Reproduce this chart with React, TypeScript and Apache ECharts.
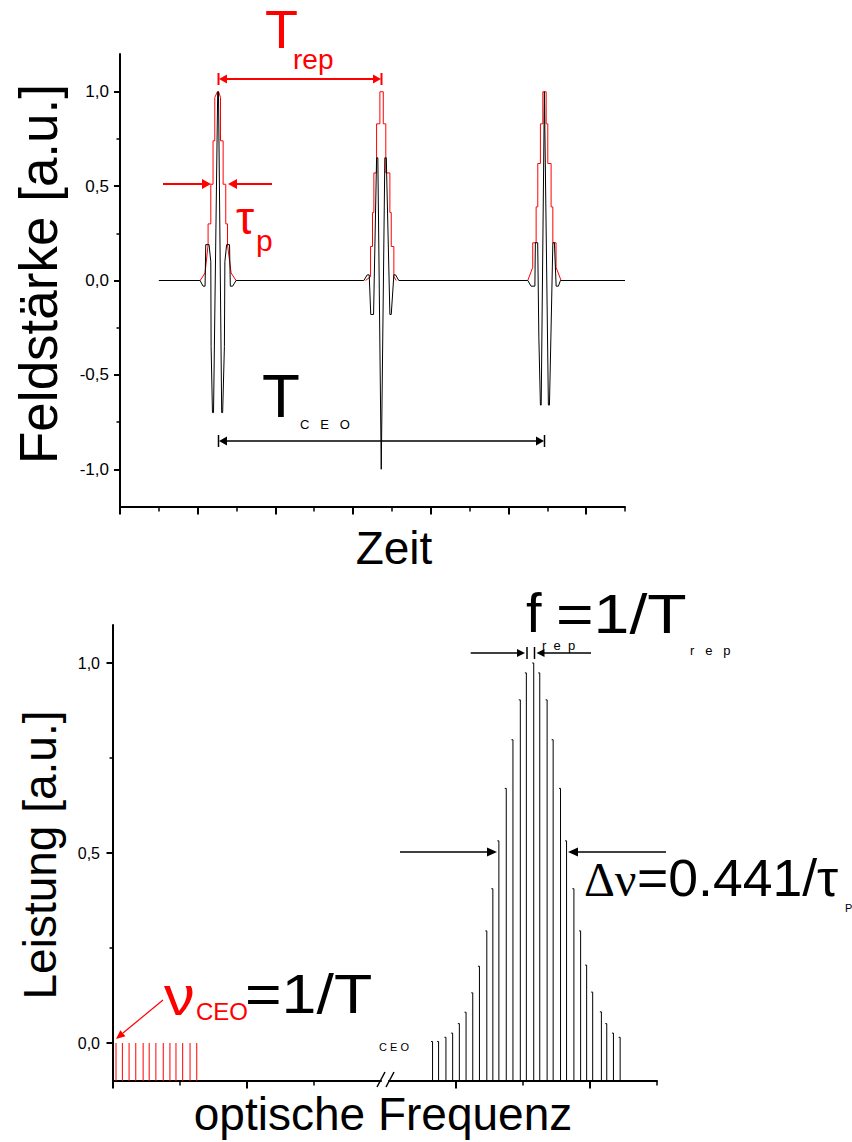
import React, { useEffect, useRef } from "react";
import * as echarts from "echarts";

const SANS = '"Liberation Sans", Arial, Helvetica, sans-serif';
const SERIF = '"Liberation Serif", "Times New Roman", serif';
const RED = "#ff0000";
const BLACK = "#000000";

// ---------- upper panel: Feldstärke vs. Zeit ----------
const zeitRange = [0, 520];
const feldRange = [-1.2, 1.2];
const zeitMajorTicks = [0, 80, 160, 240, 320, 400, 480];
const zeitMinorTicks = [40, 120, 200, 280, 360, 440, 520];
const feldMajorTicks = [-1, -0.5, 0, 0.5, 1];
const feldMinorTicks = [-0.75, -0.25, 0.25, 0.75];

const fieldLead = [[40, 0]];
const fieldPulse1 = [
  [82.5, 0], [85.5, -0.03], [87.6, -0.03], [88.3, 0.19], [91.7, 0.19], [93.5, 0.1],
  [93.8, -0.35], [95.2, -0.7], [96.3, -0.7], [100.6, 1.0], [101.4, 1.0], [104.7, -0.7],
  [105.7, -0.7], [107.5, -0.35], [108, 0.1], [109.8, 0.19], [112.8, 0.19], [113.6, -0.03],
  [116, -0.03], [119.5, 0],
];
const fieldPulse2 = [
  [251.1, 0], [254.6, 0.03], [256.6, 0.03], [258.2, -0.18], [261.1, -0.18], [264.2, 0.65],
  [265.5, 0.65], [269, -1.0], [272.7, 0.65], [274.2, 0.65], [277.9, -0.18], [279.3, -0.18],
  [282, 0.03], [283.7, 0.03], [287.1, 0],
];
const fieldPulse3 = [
  [419.9, 0], [423.3, -0.03], [427.2, -0.03], [427.7, 0.2], [430.1, 0.2], [431.3, -0.3],
  [432.9, -0.66], [433.7, -0.66], [437, 1.0], [441.1, -0.66], [442.2, -0.66], [443.7, -0.3],
  [445.7, 0.2], [447.3, 0.2], [449.1, -0.03], [451.4, -0.03], [453.5, 0],
];
const fieldTail = [[520, 0]];

const envelopePulse1 = [
  [82.5, 0], [87.6, 0.04], [90.7, 0.19], [90.7, 0.3], [93.5, 0.3], [93.5, 0.51], [95.8, 0.51],
  [95.8, 0.74], [97.6, 0.74], [97.6, 0.97], [100.3, 1.0], [101.6, 1.0], [103.5, 0.97],
  [103.5, 0.74], [106.2, 0.74], [106.2, 0.51], [108.9, 0.51], [108.9, 0.3], [110.7, 0.3],
  [110.7, 0.19], [114.4, 0.04], [119.5, 0],
];
const envelopePulse2 = [
  [252.8, 0], [258, 0.02], [258, 0.18], [260, 0.18], [260, 0.36], [261.4, 0.36], [261.4, 0.57],
  [264.2, 0.57], [264.2, 0.83], [267.6, 0.83], [267.6, 1.0], [271.1, 1.0], [271.1, 0.83],
  [273.7, 0.83], [273.7, 0.57], [277.9, 0.57], [277.9, 0.36], [279.3, 0.36], [279.3, 0.18],
  [282, 0.18], [282, 0.02], [284.5, 0],
];
const envelopePulse3 = [
  [419.9, 0], [425, 0.07], [425, 0.2], [428.5, 0.2], [428.5, 0.39], [430.2, 0.39], [430.2, 0.62],
  [432.9, 0.62], [432.9, 0.83], [435.4, 0.83], [435.4, 1.0], [438.8, 1.0], [438.8, 0.83],
  [440.5, 0.83], [440.5, 0.62], [443.9, 0.62], [443.9, 0.39], [445.7, 0.39], [445.7, 0.2],
  [449, 0.2], [449, 0.07], [454.2, 0],
];

// ---------- lower panel: Leistung vs. optische Frequenz ----------
const leistungRange = [-0.1, 1.1];
const leistungMajorTicks = [0, 0.5, 1];
const leistungMinorTicks = [0.25, 0.75];
const lowFreqRange = [0, 40];
const lowFreqMajorTicks = [0, 20];
const lowFreqMinorTicks = [10, 30];
const highFreqRange = [90, 130];
const highFreqMajorTicks = [100, 120];
const highFreqMinorTicks = [110, 130];

const ceoCombPositions = [0.45, 1.4, 2.4, 3.4, 4.5, 5.4, 6.4, 7.5, 8.5, 9.4, 10.4, 11.5, 12.5];
const ceoCombPower = [0, 0, 0, 0, 0, 0, 0, 0, 0, 0, 0, 0, 0];

const opticalCombPositions = [
  96.5, 97.4, 98.5, 99.5, 100.5, 101.5, 102.5, 103.5, 104.6, 105.5, 106.4, 107.5, 108.5,
  109.6, 110.5, 111.6, 112.5, 113.6, 114.5, 115.6, 116.5, 117.6, 118.6, 119.5, 120.4, 121.7,
  122.5, 123.5, 124.5,
];
const opticalCombPower = [
  0.004, 0.004, 0.015, 0.026, 0.051, 0.081, 0.132, 0.202, 0.295, 0.406, 0.532, 0.67, 0.798,
  0.903, 0.974, 1.0, 0.974, 0.903, 0.798, 0.67, 0.532, 0.406, 0.295, 0.205, 0.134, 0.082,
  0.051, 0.026, 0.015,
];

const commaLabel = (v: number) => v.toFixed(1).replace(".", ",");

function valueAxis(o: any) {
  return {
    type: "value",
    gridIndex: o.grid,
    min: o.range[0],
    max: o.range[1],
    position: o.position,
    show: o.show !== false,
    axisLine: {
      show: !!o.line,
      onZero: false,
      lineStyle: { color: BLACK, width: 2 },
    },
    axisTick: {
      show: true,
      inside: false,
      length: o.tickLen,
      customValues: o.ticks,
      lineStyle: { color: BLACK, width: o.tickWidth || 2 },
    },
    axisLabel: o.labels
      ? {
          show: true,
          customValues: o.labels,
          formatter: commaLabel,
          color: BLACK,
          fontFamily: SANS,
          fontSize: o.fontSize,
          margin: o.margin,
        }
      : { show: false },
    splitLine: { show: false },
    minorTick: { show: false },
    minorSplitLine: { show: false },
  };
}

function comb(color: string, nub: number) {
  return (params: any, api: any) => {
    const x = api.value(0);
    const v = api.value(1);
    const base = api.coord([x, leistungRange[0]]);
    const top = api.coord([x, v]);
    return {
      type: "polyline",
      shape: { points: [[top[0] - nub, top[1]], [top[0], top[1]], [base[0], base[1]]] },
      style: { stroke: color, lineWidth: 1, fill: "none" },
    };
  };
}

const font = (size: number, fam = SANS) => `${size}px ${fam}`;
const txt = (text: string, x: number, y: number, size: number, color: string, extra: any = {}) => ({
  type: "text",
  silent: true,
  x,
  y,
  rotation: extra.rotation || 0,
  scaleX: extra.scaleX || 1,
  style: {
    text,
    font: font(size, extra.family || SANS),
    fill: color,
    align: extra.align || "left",
    verticalAlign: "middle",
    lineHeight: Math.round(size * 0.8),
  },
});
const seg = (x1: number, y1: number, x2: number, y2: number, color: string, w: number) => ({
  type: "line",
  silent: true,
  shape: { x1, y1, x2, y2 },
  style: { stroke: color, lineWidth: w },
});
const head = (tx: number, ty: number, dx: number, dy: number, color: string, len = 9, half = 4.5) => {
  const n = Math.hypot(dx, dy);
  const ux = dx / n;
  const uy = dy / n;
  const bx = tx - ux * len;
  const by = ty - uy * len;
  return {
    type: "polygon",
    silent: true,
    shape: {
      points: [
        [tx, ty],
        [bx - uy * half, by + ux * half],
        [bx + uy * half, by - ux * half],
      ],
    },
    style: { fill: color },
  };
};

function buildOption() {
  const graphics: any[] = [
    // axis titles
    txt("Feldstärke [a.u.]", 38, 274, 53, BLACK, { rotation: Math.PI / 2, align: "center" }),
    txt("Zeit", 394, 548, 46, BLACK, { align: "center" }),
    txt("Leistung [a.u.]", 40, 855, 46, BLACK, { rotation: Math.PI / 2, align: "center" }),
    txt("optische Frequenz", 383, 1114, 46, BLACK, { align: "center" }),

    // T_rep
    txt("T", 265, 29, 54, RED),
    txt("rep", 293, 59, 28, RED),
    seg(226, 79, 374, 79, RED, 2),
    head(219, 79, -1, 0, RED, 8, 4.5),
    head(381, 79, 1, 0, RED, 8, 4.5),
    seg(218.5, 73, 218.5, 85, RED, 2),
    seg(381.5, 73, 381.5, 85, RED, 2),

    // tau_p
    seg(163, 184, 203, 184, RED, 2),
    head(211, 184, 1, 0, RED, 9, 5),
    seg(236, 184, 272, 184, RED, 2),
    head(228, 184, -1, 0, RED, 9, 5),
    txt("τ", 236, 218, 46, RED),
    txt("p", 256, 240, 30, RED),

    // T_CEO
    txt("T", 262, 395, 62, BLACK),
    txt("C   E   O", 300, 424, 13, BLACK),
    seg(226, 441, 537, 441, BLACK, 1.5),
    head(219, 441, -1, 0, BLACK, 8, 4.5),
    head(544, 441, 1, 0, BLACK, 8, 4.5),
    seg(218.5, 435, 218.5, 447, BLACK, 1.5),
    seg(544.5, 435, 544.5, 447, BLACK, 1.5),

    // f_rep
    txt("f", 526, 612, 56, BLACK),
    txt("r  e  p", 542, 645, 13, BLACK),
    txt("=1/T", 556, 614, 56, BLACK, { scaleX: 1.15 }),
    txt("r   e   p", 690, 650, 13, BLACK),
    seg(470.7, 653, 517, 653, BLACK, 1.5),
    head(525, 653, 1, 0, BLACK, 8, 4),
    seg(527, 647, 527, 659, BLACK, 1.5),
    seg(534.5, 647, 534.5, 659, BLACK, 1.5),
    head(536.5, 653, -1, 0, BLACK, 8, 4),
    seg(544, 653, 591, 653, BLACK, 1.5),

    // delta nu
    seg(400, 852, 488, 852, BLACK, 1.5),
    head(497, 852, 1, 0, BLACK, 10, 4.5),
    head(568, 852, -1, 0, BLACK, 10, 4.5),
    seg(577, 852, 666, 852, BLACK, 1.5),
    txt("Δν", 584, 879, 48, BLACK, { family: SERIF }),
    txt("=0.441/τ", 637, 878, 52, BLACK, { scaleX: 1.03 }),
    txt("P", 845, 908, 11, BLACK),

    // nu_CEO
    txt("ν", 164, 995, 56, RED, { scaleX: 1.1 }),
    txt("CEO", 196, 1011, 24, RED),
    txt("=1/T", 245, 994, 56, BLACK, { scaleX: 1.12 }),
    txt("C E O", 379, 1047, 11, BLACK),
    seg(163, 1000, 123, 1033, RED, 1.2),
    head(116, 1039, -47, 39, RED, 9, 4),

    // axis break
    seg(377, 1087, 385, 1072, BLACK, 1.5),
    seg(386, 1087, 394, 1072, BLACK, 1.5),
  ];

  return {
    animation: false,
    backgroundColor: "#ffffff",
    textStyle: { fontFamily: SANS },
    grid: [
      { left: 120, top: 54, width: 505, height: 453, outerBoundsMode: "none" },
      { left: 113, top: 625, width: 268, height: 456, outerBoundsMode: "none" },
      { left: 389, top: 625, width: 268, height: 456, outerBoundsMode: "none" },
    ],
    xAxis: [
      valueAxis({ grid: 0, range: zeitRange, position: "bottom", line: true, ticks: zeitMajorTicks, tickLen: 7.5 }),
      valueAxis({ grid: 0, range: zeitRange, position: "bottom", line: false, ticks: zeitMinorTicks, tickLen: 4.5, tickWidth: 1.5 }),
      valueAxis({ grid: 1, range: lowFreqRange, position: "bottom", line: true, ticks: lowFreqMajorTicks, tickLen: 7.5 }),
      valueAxis({ grid: 1, range: lowFreqRange, position: "bottom", line: false, ticks: lowFreqMinorTicks, tickLen: 4.5, tickWidth: 1.5 }),
      valueAxis({ grid: 2, range: highFreqRange, position: "bottom", line: true, ticks: highFreqMajorTicks, tickLen: 7.5 }),
      valueAxis({ grid: 2, range: highFreqRange, position: "bottom", line: false, ticks: highFreqMinorTicks, tickLen: 4.5, tickWidth: 1.5 }),
    ],
    yAxis: [
      valueAxis({ grid: 0, range: feldRange, position: "left", line: true, ticks: feldMajorTicks, labels: feldMajorTicks, tickLen: 6, fontSize: 17, margin: 11 }),
      valueAxis({ grid: 0, range: feldRange, position: "left", line: false, ticks: feldMinorTicks, tickLen: 3.5, tickWidth: 1.5 }),
      valueAxis({ grid: 1, range: leistungRange, position: "left", line: true, ticks: leistungMajorTicks, labels: leistungMajorTicks, tickLen: 6.5, fontSize: 16, margin: 13 }),
      valueAxis({ grid: 1, range: leistungRange, position: "left", line: false, ticks: leistungMinorTicks, tickLen: 3.5, tickWidth: 1.5 }),
      valueAxis({ grid: 2, range: leistungRange, position: "left", line: false, ticks: [], tickLen: 0, show: false }),
    ],
    series: [
      ...[envelopePulse1, envelopePulse2, envelopePulse3].map((d) => ({
        type: "line",
        xAxisIndex: 0,
        yAxisIndex: 0,
        data: d,
        symbol: "none",
        silent: true,
        lineStyle: { color: RED, width: 1 },
      })),
      {
        type: "line",
        xAxisIndex: 0,
        yAxisIndex: 0,
        data: [...fieldLead, ...fieldPulse1, ...fieldPulse2, ...fieldPulse3, ...fieldTail],
        symbol: "none",
        silent: true,
        lineStyle: { color: BLACK, width: 1 },
      },
      {
        type: "custom",
        xAxisIndex: 2,
        yAxisIndex: 2,
        silent: true,
        data: ceoCombPositions.map((x, i) => [x, ceoCombPower[i]]),
        renderItem: comb(RED, 0),
      },
      {
        type: "custom",
        xAxisIndex: 4,
        yAxisIndex: 4,
        silent: true,
        data: opticalCombPositions.map((x, i) => [x, opticalCombPower[i]]),
        renderItem: comb(BLACK, 1.5),
      },
    ],
    graphic: { elements: graphics },
  };
}

export default function App() {
  const ref = useRef<HTMLDivElement>(null);
  useEffect(() => {
    if (!ref.current) return;
    const chart = echarts.init(ref.current, null, { renderer: "svg" });
    chart.setOption(buildOption() as any);
    return () => chart.dispose();
  }, []);
  return (
    <div
      ref={ref}
      style={{ position: "absolute", left: 0, top: 0, width: 852, height: 1142, background: "#fff" }}
    />
  );
}
